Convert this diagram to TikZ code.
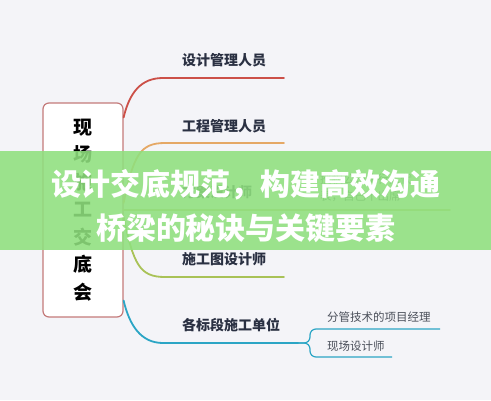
\documentclass[tikz,border=0pt]{standalone}
\usepackage{fontspec}
\newfontfamily\cjk{Noto Sans CJK SC}
\definecolor{bgcol}{HTML}{F4F4F8}
\definecolor{rootborder}{HTML}{C47A7A}
\definecolor{redline}{HTML}{CC5048}
\definecolor{orangeline}{HTML}{E5A865}
\definecolor{oliveline}{HTML}{C8C070}
\definecolor{greenline}{HTML}{A9C257}
\definecolor{blueline}{HTML}{2BA5C5}
\definecolor{labelcol}{HTML}{2A3042}
\definecolor{subcol}{HTML}{4A4F5A}
\definecolor{bannercol}{HTML}{8FE07E}
\tikzset{
  rootbox/.style={draw=rootborder, fill=white, line width=1.2pt, rounded corners=6pt,
    minimum width=80pt, minimum height=214pt, inner sep=0pt, align=center,
    font=\cjk\bfseries\fontsize{19}{27.5}\selectfont},
  branchtext/.style={anchor=west, inner sep=0pt, text=labelcol,
    font=\cjk\bfseries\fontsize{14}{16}\selectfont},
  subtext/.style={anchor=west, inner sep=0pt, text=subcol, align=left,
    font=\cjk\fontsize{11.5}{17}\selectfont},
  branch/.style={line width=1.8pt, line cap=round},
  subbranch/.style={line width=1.2pt, rounded corners=6pt},
  titletext/.style={inner sep=0pt, text=white,
    font=\cjk\bfseries\fontsize{30}{36}\selectfont}
}
\begin{document}
\begin{tikzpicture}[x=1pt,y=-1pt]
            \fill [bgcol] (0,0) rectangle (491,400);
            \node [rootbox] (root) at (83,210) {现\\场\\施\\工\\交\\底\\会};
            \node [branchtext] (b1) at (182,60) {设计管理人员};
            \node [branchtext] (b2) at (182,126) {工程管理人员};
            \node [branchtext] (b3) at (182,192) {方案设计师};
            \node [branchtext] (b4) at (182,259) {施工图设计师};
            \node [branchtext] (b5) at (182,325) {各标段施工单位};
            \node [subtext] (s3) at (320,188) {授权公司执行人代\\表，自己不出席};
            \node [subtext] (s51) at (327,317) {分管技术的项目经理};
            \node [subtext] (s52) at (327,346) {现场设计师};
            \path (root.north east) ++(0,15) coordinate (r1);
            \path (root.east) ++(0,-7) coordinate (r2);
            \path (root.east) coordinate (r3);
            \path (root.east) ++(0,7) coordinate (r4);
            \path (root.south east) ++(0,-17) coordinate (r5);
            \coordinate (b1e) at (284,78);
            \coordinate (b2e) at (284,143);
            \coordinate (b3e) at (450,210);
            \coordinate (b4e) at (284,277);
            \coordinate (b5e) at (298,343);
            \draw [branch, redline] (r1) .. controls +(6,-25) and +(-22,0) .. (163,78) -- (b1e);
            \draw [branch, orangeline] (r2) .. controls +(10,-48) and +(-25,0) .. (165,143) -- (b2e);
            \draw [branch, oliveline] (r3) -- (b3e);
            \draw [branch, greenline] (r4) .. controls +(10,48) and +(-25,0) .. (165,277) -- (b4e);
            \draw [branch, blueline] (r5) .. controls +(6,25) and +(-22,0) .. (163,343) -- (b5e);
            \draw [subbranch, blueline] (b5e) -- (310,343) -- (310,329) -- (440,329);
            \draw [subbranch, blueline] (b5e) -- (310,343) -- (310,357) -- (392,357);
            \fill [bannercol, fill opacity=0.88] (0,151) rectangle (491,250);
            \node [titletext] (t1) at (246,185) {设计交底规范，构建高效沟通};
            \node [titletext] (t2) at (246,228) {桥梁的秘诀与关键要素};
\end{tikzpicture}
\end{document}
